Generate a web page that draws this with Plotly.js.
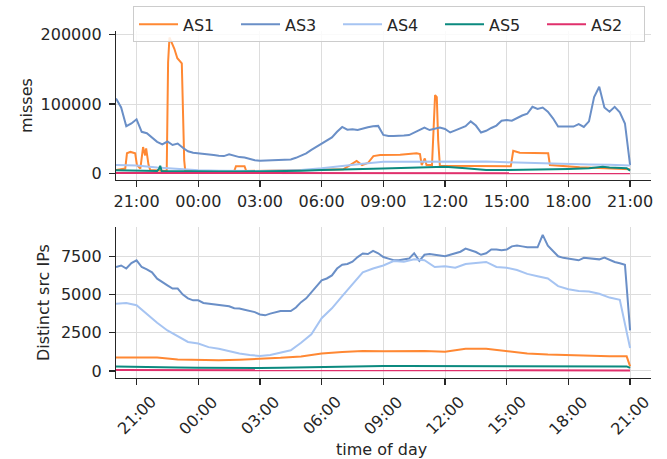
<!DOCTYPE html>
<html>
<head>
<meta charset="utf-8">
<script src="https://cdn.plot.ly/plotly-3.0.1.min.js"></script>
<style>html,body{margin:0;padding:0;background:#fff;}#chart{width:667px;height:459px;}</style>
</head>
<body>
<div id="chart"></div>
<script>
// ---------- DATA ----------
const seriesNames = ["AS1", "AS3", "AS4", "AS5", "AS2"];

// x tick labels (every 3 hours)
const tickTimes = ["21:00","00:00","03:00","06:00","09:00","12:00","15:00","18:00","21:00"];

// hourly time stamps (20:00 day 1 .. 21:00 day 2)
const tHourly = ["20:00","21:00","22:00","23:00","00:00","01:00","02:00","03:00","04:00","05:00","06:00","07:00","08:00","09:00","10:00","11:00","12:00","13:00","14:00","15:00","16:00","17:00","18:00","19:00","20:00","20:50","21:00"];

// ---- top panel: misses ----
const missAS1Times = ["20:00","20:27","20:32","20:42","20:56","21:01","21:11","21:19","21:25","21:28","21:35","21:40","22:28","22:32","22:36","22:50","22:59","23:12","23:19","23:22","01:45","01:50","02:15","02:20","05:30","07:03","07:23","07:42","07:58","08:15","08:31","08:51","09:49","10:37","10:47","10:52","11:01","11:06","11:22","11:31","11:36","11:40","11:45","13:42","15:12","15:19","15:38","17:01","17:06","18:33","21:00"];
const missAS1 = [5000,7000,29000,31000,29000,12000,7000,38000,26000,36000,12000,4800,3500,160000,196000,180000,166000,158700,19000,4000,3500,10500,10500,3500,5000,6000,12000,18000,12000,15000,25000,26400,27000,29000,27800,12000,21600,12000,12000,113000,110000,48000,11000,10500,10500,32600,29700,29000,12000,9000,6000];

// AS3 misses, every 15 minutes
const missAS3 = [108000,95000,68000,72000,78000,60000,58000,52000,45600,42000,
 46000,41000,43000,37000,32000,29700,29000,28900,27500,26400,
 25500,25000,27500,25000,23500,22800,20500,19000,18200,18500,
 19200,19500,20200,20200,20200,22500,25500,28900,34000,38500,
 43000,48000,52000,60000,67000,63000,63500,62500,65000,66500,
 68000,68500,55500,54000,53800,53800,54500,55300,58500,62000,
 66000,62500,64500,66000,64000,59000,62000,65000,68000,75000,
 69000,59000,61500,65500,69000,76000,77000,76000,80000,83500,
 86000,96000,93000,95000,89000,79500,67500,67200,67200,67500,
 71000,67000,75000,110000,125000,95000,89000,96000,88000,72000,
 12000];

// AS4 misses, hourly
const missAS4 = [12000,11500,8500,6000,4500,3800,3500,3500,4200,5000,7500,11000,14000,16700,17000,17200,17500,17700,17300,16000,15000,14000,13000,12800,12500,12200,11500];

const missAS5Times = ["20:00","21:00","22:00","22:05","22:09","22:13","23:00","00:00","01:00","02:00","03:00","04:00","05:00","06:00","07:00","08:00","09:00","10:00","11:00","12:00","13:00","14:00","15:00","16:00","17:00","18:00","19:00","19:40","20:00","20:50","21:00"];
const missAS5 = [4500,3800,3500,6000,11000,3500,3000,2800,2600,2600,2800,3200,4000,4800,6000,6500,7200,8000,9500,9600,7500,4800,4800,5200,6000,6500,7500,9600,8500,7500,4000];

// AS2 misses, hourly
const missAS2 = [600,600,600,550,550,500,500,500,500,550,600,600,650,650,650,650,650,650,650,650,650,650,650,600,600,600,300];

// ---- bottom panel: distinct source IPs ----
const ipsAS1 = [880,880,880,760,720,700,740,780,860,950,1150,1240,1300,1290,1300,1300,1260,1450,1460,1300,1150,1080,1030,980,960,960,300];

// AS3 IPs, every 15 minutes
const ipsAS3 = [6800,6900,6700,7060,7240,6800,6650,6450,6040,5800,
 5600,5390,5390,5000,4750,4620,4620,4450,4400,4350,
 4300,4250,4230,4100,4080,4000,3920,3850,3700,3640,
 3750,3820,3920,3920,3920,4150,4500,4750,5150,5500,
 5930,6050,6250,6700,6950,7000,7150,7450,7680,7650,
 7850,7700,7450,7350,7250,7240,7300,7350,7700,7200,
 7600,7650,7600,7550,7500,7600,7700,7800,8000,7900,
 7780,7600,7700,7950,7950,7900,7940,8150,8200,8150,
 8100,8100,8090,8900,8200,7850,7500,7400,7350,7300,
 7240,7400,7380,7350,7300,7420,7250,7130,7050,6950,
 2660];

// AS4 IPs, every 30 minutes
const ipsAS4 = [4400,4450,4300,3700,3150,2650,2250,1900,1800,1560,
 1450,1300,1150,1050,980,1050,1200,1350,1850,2400,
 3450,4100,4900,5700,6450,6700,6900,7190,7150,7300,
 7240,6800,6850,6750,7000,7060,7130,6800,6750,6600,
 6350,6200,6050,5550,5350,5230,5200,5050,4800,4650,
 1500];

const ipsAS5 = [300,290,260,230,210,200,190,200,220,250,280,300,320,330,330,330,330,330,330,330,320,320,320,320,310,300,200];
const ipsAS2 = [60,60,55,50,50,50,50,50,50,55,60,65,70,70,70,70,70,70,70,70,70,70,70,65,65,65,40];

// ---------- helpers ----------
function pad(n){return (n<10?'0':'')+n;}
function fmt(d){return d.getUTCFullYear()+'-'+pad(d.getUTCMonth()+1)+'-'+pad(d.getUTCDate())+' '+pad(d.getUTCHours())+':'+pad(d.getUTCMinutes());}
function toDates(times){
  let day=0, prev=-1;
  return times.map(function(s){
    const p=s.split(':'); const mins=(+p[0])*60+(+p[1]);
    if(prev>=0 && mins<prev) day++;
    prev=mins;
    return (day===0?'2024-01-01':'2024-01-02')+' '+s;
  });
}
function regular(stepMin, n){
  const start=Date.UTC(2024,0,1,20,0);
  const out=[]; for(let i=0;i<n;i++){out.push(fmt(new Date(start+i*stepMin*60000)));} return out;
}
const t15 = regular(15, missAS3.length);
const t30 = regular(30, ipsAS4.length);
const tH = toDates(tHourly);
const tickDates = toDates(tickTimes);

const colors = {AS1:'#ff8833', AS3:'#6a8fc7', AS4:'#a6c4f2', AS5:'#0b8a7f', AS2:'#e0306c'};
const lw = 2;

function tr(name, x, y, xa, ya, show){
  return {type:'scatter', mode:'lines', name:name, x:x, y:y, xaxis:xa, yaxis:ya,
    line:{color:colors[name], width:lw}, legendgroup:name, showlegend:show, hoverinfo:'skip'};
}

const data = [
  tr('AS1', toDates(missAS1Times), missAS1, 'x', 'y', true),
  tr('AS3', t15, missAS3, 'x', 'y', true),
  tr('AS4', tH, missAS4, 'x', 'y', true),
  tr('AS5', toDates(missAS5Times), missAS5, 'x', 'y', true),
  tr('AS2', tH, missAS2, 'x', 'y', true),
  tr('AS1', tH, ipsAS1, 'x2', 'y2', false),
  tr('AS3', t15, ipsAS3, 'x2', 'y2', false),
  tr('AS4', t30, ipsAS4, 'x2', 'y2', false),
  tr('AS5', tH, ipsAS5, 'x2', 'y2', false),
  tr('AS2', tH, ipsAS2, 'x2', 'y2', false)
];

const txt = '#262626';
const font = {family:'DejaVu Sans, sans-serif', size:16, color:txt};
function xax(extra){
  return Object.assign({type:'date', range:['2024-01-01 20:00','2024-01-02 22:01'],
    tickmode:'array', tickvals:tickDates, ticktext:tickTimes,
    ticks:'outside', ticklen:6, tickwidth:1.2, tickcolor:txt,
    showline:true, linecolor:txt, linewidth:1.2, showgrid:true, gridcolor:'#dddddd', gridwidth:1,
    zeroline:false, tickfont:{size:16, color:txt}, automargin:false}, extra);
}
function yax(extra){
  return Object.assign({ticks:'outside', ticklen:6, tickwidth:1.2, tickcolor:txt,
    showline:true, linecolor:txt, linewidth:1.2, showgrid:true, gridcolor:'#dddddd', gridwidth:1,
    zeroline:false, tickformat:'d', ticklabelstandoff:4, tickfont:{size:16, color:txt}, automargin:false}, extra);
}

// rotated, centred tick labels for the lower time axis
const annotations = tickDates.map(function(d, i){
  return {x:d, xref:'x2', y:-0.1076, yref:'paper', text:tickTimes[i], showarrow:false,
    textangle:-45, xanchor:'center', yanchor:'middle', font:{size:16, color:txt}};
});
annotations.push({x:0.497, xref:'paper', y:-0.2057, yref:'paper', text:'time of day', showarrow:false,
  xanchor:'center', yanchor:'middle', font:{size:16, color:txt}});

const layout = {
  width:667, height:459,
  margin:{l:116, r:16, t:31, b:81, pad:0, autoexpand:false},
  paper_bgcolor:'#ffffff', plot_bgcolor:'#ffffff',
  font:font,
  showlegend:true,
  legend:{orientation:'h', x:0.0318, xanchor:'left', y:1.071, yanchor:'top',
    bgcolor:'rgba(255,255,255,0.85)', bordercolor:'#cccccc', borderwidth:1,
    font:{size:16, color:txt}, itemwidth:39, entrywidth:48, traceorder:'normal'},
  xaxis: xax({domain:[0,1], anchor:'y'}),
  yaxis: yax({domain:[0.57,1], anchor:'x', range:[-9775,205275], tickvals:[0,100000,200000],
    title:{text:'misses', font:{size:16, color:txt}, standoff:4}}),
  xaxis2: xax({domain:[0,1], anchor:'y2', showticklabels:false}),
  yaxis2: yax({domain:[0,0.4347], anchor:'x2', range:[-458,9406], tickvals:[0,2500,5000,7500],
    title:{text:'Distinct src IPs', font:{size:16, color:txt}, standoff:7}}),
  annotations: annotations
};

Plotly.newPlot('chart', data, layout, {displayModeBar:false, staticPlot:true});
</script>
</body>
</html>
